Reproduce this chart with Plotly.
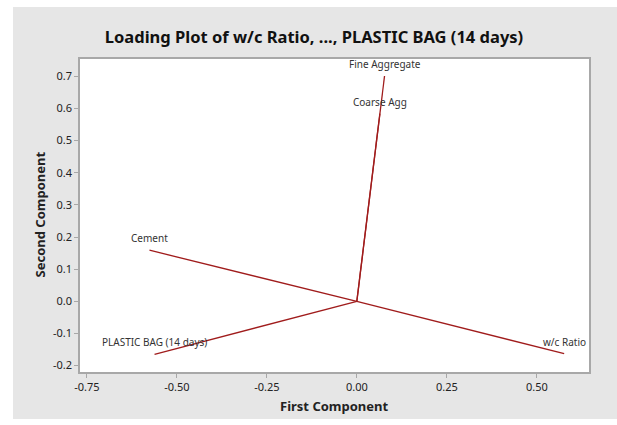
import plotly.graph_objects as go

variables = ["w/c Ratio", "Cement", "Fine Aggregate", "Coarse Agg", "PLASTIC BAG (14 days)"]
pc1 = [0.576, -0.576, 0.077, 0.064, -0.562]
pc2 = [-0.163, 0.159, 0.701, 0.584, -0.165]

x_ticks = [-0.75, -0.50, -0.25, 0.00, 0.25, 0.50]
y_ticks = [-0.2, -0.1, 0.0, 0.1, 0.2, 0.3, 0.4, 0.5, 0.6, 0.7]

FONT = "Noto Sans"
LINE = "#a01c1c"
GREY_BG = "#e6e6e6"
BORDER = "#a8a8a8"

FIG_W, FIG_H = 617, 425
ML, MR, MT, MB = 80, 28, 59, 53
W = FIG_W - ML - MR
H = FIG_H - MT - MB

fig = go.Figure()
for name, x, y in zip(variables, pc1, pc2):
    fig.add_trace(go.Scatter(x=[0, x], y=[0, y], mode="lines",
                             line=dict(color=LINE, width=1.3),
                             showlegend=False, hoverinfo="skip"))
    fig.add_annotation(x=x, y=y, text=name, showarrow=False,
                       yshift=12, yanchor="middle", xanchor="center",
                       font=dict(family=FONT, size=10, color="#333333"))

# grey panel: pixels x 13..617, y 7..419
shapes = [
    dict(type="rect", xref="paper", yref="paper", layer="below",
         x0=(13 - ML) / W, x1=(FIG_W + 10 - ML) / W,
         y0=(MT + H - 419) / H, y1=(MT + H - 7) / H,
         fillcolor=GREY_BG, line=dict(width=0)),
    dict(type="rect", xref="paper", yref="paper", layer="below",
         x0=0, x1=1, y0=0, y1=1, fillcolor="white", line=dict(width=0)),
]

fig.add_annotation(xref="paper", yref="paper", x=0.5, y=0, yshift=-33.5,
                   yanchor="middle", xanchor="center", showarrow=False,
                   text="<b>First Component</b>",
                   font=dict(family=FONT, size=13, color="#222222"))
fig.add_annotation(xref="paper", yref="paper", x=0, y=0.5, xshift=-41, yshift=1,
                   yanchor="middle", xanchor="center", showarrow=False, textangle=-90,
                   text="<b>Second Component</b>",
                   font=dict(family=FONT, size=13, color="#222222"))

axis_common = dict(showgrid=False, zeroline=False, showline=True, mirror=True,
                   linecolor=BORDER, linewidth=1.5, ticks="outside", ticklen=4,
                   tickcolor=BORDER, tickfont=dict(family=FONT, size=11, color="#222222"))

fig.update_layout(
    width=FIG_W, height=FIG_H,
    margin=dict(l=ML, r=MR, t=MT, b=MB),
    paper_bgcolor="white", plot_bgcolor="white",
    shapes=shapes,
    hovermode=False,
    title=dict(text="<b>Loading Plot of w/c Ratio, ..., PLASTIC BAG (14 days)</b>",
               x=314 / FIG_W, xanchor="center", xref="container",
               y=1 - 37 / FIG_H, yanchor="middle", yref="container",
               font=dict(family=FONT, size=16.5, color="#111111")),
    xaxis=dict(range=[-0.769, 0.645], tickvals=x_ticks,
               ticktext=[f"{v:.2f}" for v in x_ticks], **axis_common),
    yaxis=dict(range=[-0.220, 0.754], tickvals=y_ticks,
               ticktext=[f"{v:.1f}" for v in y_ticks], **axis_common),
)

fig.write_html("out.html",
               config={"displayModeBar": False},
               post_script="document.body.style.margin='0';document.body.style.overflow='hidden';")
